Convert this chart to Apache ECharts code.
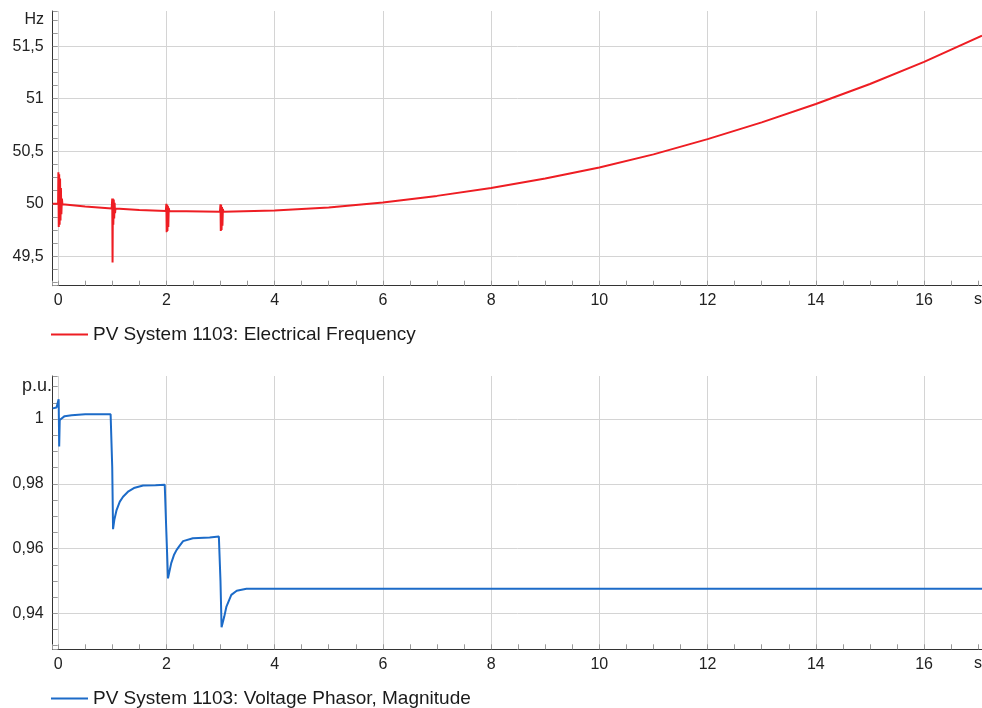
<!DOCTYPE html>
<html>
<head>
<meta charset="utf-8">
<script src="https://cdn.jsdelivr.net/npm/echarts@6/dist/echarts.min.js"></script>
<style>
html,body{margin:0;padding:0;background:#fff;}
#chart{width:982px;height:708px;}
</style>
</head>
<body>
<div id="chart"></div>
<script>
// ---- Data ----
const freqName = 'PV System 1103: Electrical Frequency';
const voltName = 'PV System 1103: Voltage Phasor, Magnitude';

const freqTime = [-0.1, 0, 0.005, 0.012, 0.02, 0.028, 0.036, 0.044, 0.052, 0.06, 0.07, 0.08, 0.5, 0.99,
  1.0, 1.006, 1.012, 1.02, 1.028, 1.036, 1.044, 1.052, 1.06, 1.5, 1.99,
  2.0, 2.006, 2.012, 2.02, 2.028, 2.036, 2.044, 2.055, 2.99,
  3.0, 3.006, 3.012, 3.02, 3.028, 3.036, 3.044, 3.055,
  4, 5, 6, 7, 8, 9, 10, 11, 12, 13, 14, 15, 16, 17.07];
const freqValue = [50.0, 50.0, 50.30, 49.78, 50.28, 49.80, 50.24, 49.84, 50.15, 49.90, 50.05, 49.995, 49.975, 49.955,
  50.05, 49.44, 50.05, 49.80, 50.04, 49.86, 50.01, 49.91, 49.955, 49.94, 49.932,
  50.0, 49.73, 49.99, 49.74, 49.98, 49.78, 49.96, 49.93, 49.925,
  49.995, 49.74, 49.99, 49.75, 49.97, 49.79, 49.95, 49.925,
  49.935, 49.965, 50.012, 50.075, 50.15, 50.24, 50.345, 50.47, 50.615, 50.775, 50.95, 51.14, 51.35, 51.6];

const voltTime = [-0.1, -0.03, 0.0, 0.01, 0.02, 0.03, 0.06, 0.12, 0.25, 0.5, 0.97, 1.0, 1.015, 1.04, 1.08, 1.14, 1.2, 1.3, 1.4, 1.57, 1.8, 1.97, 2.0, 2.03, 2.09, 2.14, 2.19, 2.25, 2.31, 2.49, 2.8, 2.97, 3.0, 3.02, 3.07, 3.11, 3.2, 3.3, 3.48, 17.07];
const voltValue = [1.0033, 1.0036, 1.004, 1.0061, 0.9915, 0.9997, 1.0002, 1.0009, 1.0012, 1.0015, 1.0015, 0.985, 0.966, 0.969, 0.9719, 0.9745, 0.976, 0.9777, 0.9787, 0.9795, 0.9796, 0.9797, 0.965, 0.9508, 0.9555, 0.958, 0.9596, 0.961, 0.9623, 0.9632, 0.9634, 0.9637, 0.95, 0.9357, 0.939, 0.9421, 0.9457, 0.947, 0.9476, 0.9476];

const freqUnit = 'Hz';
const voltUnit = 'p.u.';
const timeUnit = 's';

// ---- Chart ----
const FONT = 'Liberation Sans, Arial, sans-serif';
const chart = echarts.init(document.getElementById('chart'), null, {renderer: 'canvas'});

function xAxisCfg(gridIndex) {
  return {
    type: 'value', gridIndex: gridIndex,
    min: -0.1, max: 17.07, splitNumber: 8,
    axisLine: {show: true, onZero: false, lineStyle: {color: '#333', width: 1}},
    axisTick: {show: true, inside: true, length: 5, lineStyle: {color: '#999'}},
    minorTick: {show: true, splitNumber: 4, length: 5, lineStyle: {color: '#999'}},
    axisLabel: {showMinLabel: false, showMaxLabel: false, margin: 7, fontSize: 16, color: '#222', fontFamily: FONT},
    splitLine: {show: true, showMinLine: false, showMaxLine: false, lineStyle: {color: '#d4d4d4', width: 1}}
  };
}
function yAxisCfg(gridIndex, min, max, split) {
  return {
    type: 'value', gridIndex: gridIndex,
    min: min, max: max, splitNumber: split,
    axisLine: {show: true, onZero: false, lineStyle: {color: '#333', width: 1}},
    axisTick: {show: true, inside: true, length: 5, lineStyle: {color: '#999'}},
    minorTick: {show: true, splitNumber: 4, length: 5, lineStyle: {color: '#999'}},
    axisLabel: {showMinLabel: false, showMaxLabel: false, margin: 9, fontSize: 16, color: '#222', fontFamily: FONT,
      formatter: v => String(Math.round(v * 1000) / 1000).replace('.', ',')},
    splitLine: {show: true, showMinLine: false, showMaxLine: false, lineStyle: {color: '#d4d4d4', width: 1}}
  };
}

const legendText = {fontSize: 19, color: '#1a1a1a', fontFamily: FONT};

const option = {
  animation: false,
  backgroundColor: '#fff',
  grid: [
    {left: 52.7, right: 0, top: 11, bottom: 708 - 285.7},
    {left: 52.7, right: 0, top: 376, bottom: 708 - 649.3}
  ],
  xAxis: [xAxisCfg(0), xAxisCfg(1)],
  yAxis: [yAxisCfg(0, 49.22, 51.835, 5), yAxisCfg(1, 0.9289, 1.0133, 4)],
  legend: [
    {data: [freqName], left: 51, top: 325, padding: 0, icon: 'rect', itemWidth: 37, itemHeight: 2, itemGap: 0,
     textStyle: legendText, selectedMode: false},
    {data: [voltName], left: 51, top: 689, padding: 0, icon: 'rect', itemWidth: 37, itemHeight: 2, itemGap: 0,
     textStyle: legendText, selectedMode: false}
  ],
  graphic: [
    {type: 'text', right: 982 - 44, top: 12, style: {text: freqUnit, font: '16px ' + FONT, fill: '#222'}},
    {type: 'text', right: 982 - 52, top: 377, style: {text: voltUnit, font: '18px ' + FONT, fill: '#222'}},
    {type: 'text', right: 0, top: 292, style: {text: timeUnit, font: '16px ' + FONT, fill: '#222'}},
    {type: 'text', right: 0, top: 656, style: {text: timeUnit, font: '16px ' + FONT, fill: '#222'}}
  ],
  series: [
    {name: freqName, type: 'line', xAxisIndex: 0, yAxisIndex: 0, showSymbol: false, symbol: 'none',
     lineStyle: {color: '#ee1d23', width: 2}, itemStyle: {color: '#ee1d23'},
     data: freqTime.map((t, i) => [t, freqValue[i]])},
    {name: voltName, type: 'line', xAxisIndex: 1, yAxisIndex: 1, showSymbol: false, symbol: 'none',
     lineStyle: {color: '#1c6bc8', width: 2}, itemStyle: {color: '#1c6bc8'},
     data: voltTime.map((t, i) => [t, voltValue[i]])}
  ]
};
chart.setOption(option);
</script>
</body>
</html>
